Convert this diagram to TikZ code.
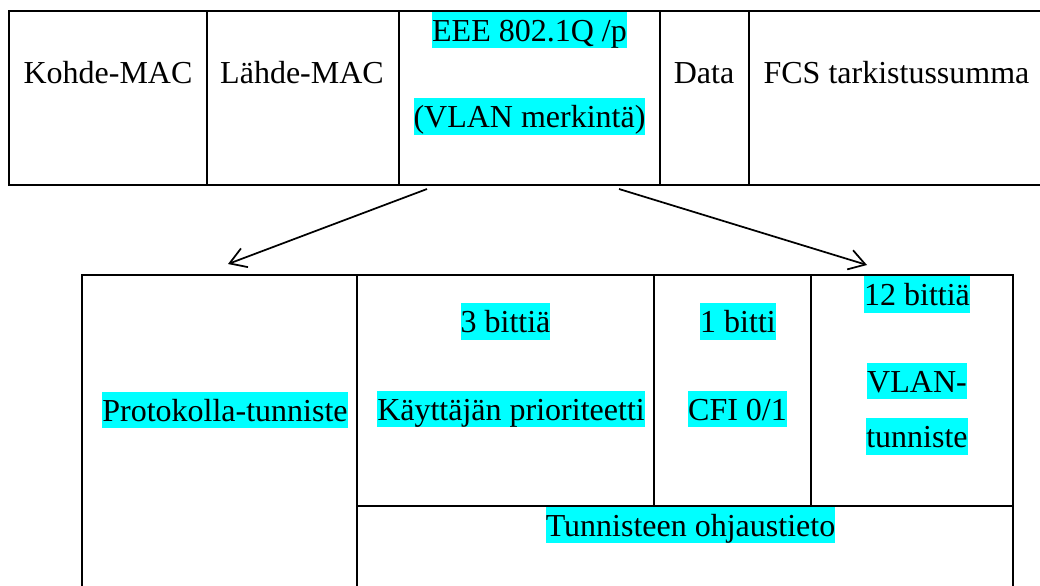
\documentclass[tikz,border=0pt]{standalone}
\usepackage{fontspec}
\setmainfont{Liberation Serif}
\usetikzlibrary{arrows.meta}
\definecolor{hlcyan}{RGB}{0,255,255}
\begin{document}
\begin{tikzpicture}[x=0.75pt,y=-0.75pt, line width=1.5pt,
  lbl/.style={inner sep=0pt, text height=22.3pt, text depth=5.3pt, font=\fontsize{24}{28}\selectfont},
  hl/.style={lbl, fill=hlcyan},
  arr/.style={line width=1.3pt, -{Straight Barb[length=12pt,width=15pt,line width=1.3pt]}}]
\useasboundingbox (0,0) rectangle (1040,586);
% top frame
\draw (9,11) rectangle (1046,185);
\draw (207,11) -- (207,185) (399,11) -- (399,185) (660,11) -- (660,185) (749,11) -- (749,185);
% bottom frame
\draw (82,275) rectangle (1013,600);
\draw (357,275) -- (357,600) (357,506) -- (1013,506) (654,275) -- (654,506) (811,275) -- (811,506);
% top texts
\node[lbl, anchor=base] (kohde) at (108,83) {Kohde-MAC};
\node[lbl, anchor=base] (lahde) at (302,83) {Lähde-MAC};
\node[hl] (eee) at (529.5,30) {EEE 802.1Q /p};
\node[hl] (vlanm) at (529.5,116.5) {(VLAN merkintä)};
\node[lbl, anchor=base] (data) at (704,83) {Data};
\node[lbl, anchor=base] (fcs) at (896.5,83) {FCS tarkistussumma};
% bottom texts
\node[hl] (proto) at (225,410) {Protokolla-tunniste};
\node[hl] (bits3) at (505.5,321.5) {3 bittiä};
\node[hl] (prio) at (511,409) {Käyttäjän prioriteetti};
\node[hl] (bit1) at (738,321.5) {1 bitti};
\node[hl] (cfi) at (737.5,409) {CFI 0/1};
\node[hl] (bits12) at (917,294.5) {12 bittiä};
\node[hl] (vlan) at (917,381) {VLAN-};
\node[hl] (tunn) at (917,436.5) {tunniste};
\node[hl] (ohj) at (690.5,525) {Tunnisteen ohjaustieto};
% arrows
\coordinate (a1s) at (427,189);
\coordinate (a1e) at (228,264);
\coordinate (a2s) at (619,189);
\coordinate (a2e) at (867,265);
\draw[arr] (a1s) -- (a1e);
\draw[arr] (a2s) -- (a2e);
\end{tikzpicture}
\end{document}
